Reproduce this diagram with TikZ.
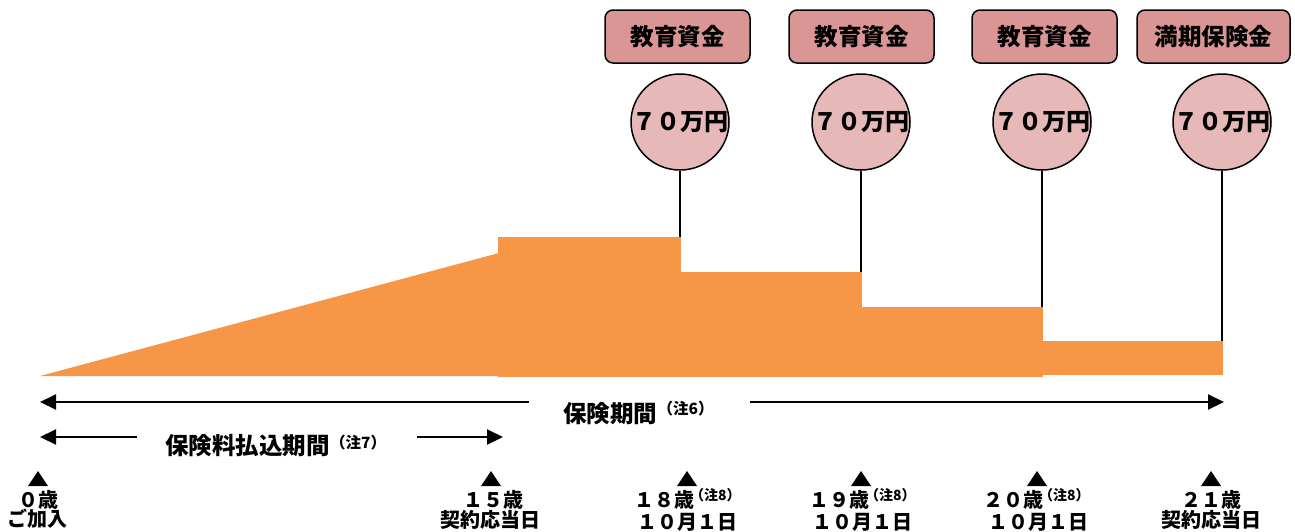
\documentclass[tikz,border=0pt]{standalone}
\usepackage{fontspec}
\setmainfont{Noto Sans CJK JP}
\usetikzlibrary{arrows.meta,shapes.geometric}
\definecolor{orng}{HTML}{F79646}
\definecolor{rosebox}{HTML}{D99694}
\definecolor{rosecirc}{HTML}{E6B9B8}
\begin{document}
\begin{tikzpicture}[x=1pt,y=-1pt,
 paybox/.style={draw=black, line width=1.5pt, fill=rosebox, rounded corners=8pt, minimum width=145pt, minimum height=53pt, inner sep=0pt, font=\bfseries\fontsize{23.5}{24}\selectfont},
 money/.style={draw=black, line width=1.5pt, fill=rosecirc, ellipse, minimum width=98pt, minimum height=96pt, inner sep=0pt},
 moneytxt/.style={inner sep=0pt, font=\bfseries\fontsize{24}{24}\selectfont},
 bigtxt/.style={inner sep=0pt, font=\bfseries\fontsize{23.5}{24}\selectfont},
 agetxt/.style={inner sep=0pt, font=\bfseries\fontsize{20}{20}\selectfont},
 note/.style={inner sep=0pt, font=\bfseries\fontsize{15.5}{15.5}\selectfont},
 smallnote/.style={inner sep=0pt, font=\bfseries\fontsize{14}{14}\selectfont},
 period/.style={line width=2pt, -{Triangle[length=16pt,width=15pt]}},
 stem/.style={line width=2pt}
]
\useasboundingbox (0,0) rectangle (1295,531);

% benefit area
\fill[orng] (40,376) -- (499,253) -- (499,376) -- cycle;
\fill[orng] (498,237) rectangle (681,377);
\fill[orng] (680,272) rectangle (862,377);
\fill[orng] (861,307) rectangle (1043,377);
\fill[orng] (1042,341) rectangle (1223,375);

\coordinate (top1) at (680,237);
\coordinate (top2) at (861,272);
\coordinate (top3) at (1042,307);
\coordinate (top4) at (1222,341);

% payment boxes
\node[paybox] (b1) at (677.5,36.5) {教育資金};
\node[paybox] (b2) at (861.5,36.5) {教育資金};
\node[paybox] (b3) at (1044.5,36.5) {教育資金};
\node[paybox, minimum width=153pt] (b4) at (1213.5,36.5) {満期保険金};

% amount circles
\node[money] (c1) at (680,122) {};
\node[money] (c2) at (861,122) {};
\node[money] (c3) at (1042,122) {};
\node[money] (c4) at (1222,122) {};
\node[moneytxt] (m1) at (c1) {７０万円};
\node[moneytxt] (m2) at (c2) {７０万円};
\node[moneytxt] (m3) at (c3) {７０万円};
\node[moneytxt] (m4) at (c4) {７０万円};

\draw[stem] (c1.south) -- (top1);
\draw[stem] (c2.south) -- (top2);
\draw[stem] (c3.south) -- (top3);
\draw[stem] (c4.south) -- (top4);

% insurance period
\coordinate (p0) at (40,402);
\coordinate (pL) at (529,402);
\coordinate (pR) at (750,402);
\coordinate (p21) at (1224,402);
\draw[period] (pL) -- (p0);
\draw[period] (pR) -- (p21);
\node[bigtxt, anchor=west] (hk) at (563,414) {保険期間};
\node[note, anchor=west] (hkn) at (hk.east |- 0,409) {（注6）};

% premium payment period
\coordinate (q0) at (40,437);
\coordinate (qL) at (137,437);
\coordinate (qR) at (417,437);
\coordinate (q15) at (503,437);
\draw[period] (qL) -- (q0);
\draw[period] (qR) -- (q15);
\node[bigtxt, anchor=west] (hr) at (165,446) {保険料払込期間};
\node[note, anchor=west] (hrn) at (hr.east |- 0,443) {（注7）};

% ticks
\foreach \x in {38,491,687,861,1037,1211}
  \fill (\x-10,486) -- (\x+10,486) -- (\x,471) -- cycle;

% age labels
\node[agetxt] (a0) at (38,499.5) {０歳};
\node[agetxt] (a0b) at (38,519) {ご加入};
\node[agetxt] (a15) at (493,499.5) {１５歳};
\node[agetxt] (a15b) at (490,520) {契約応当日};
\node[agetxt, anchor=east] (a18) at (695,499.5) {１８歳};
\node[smallnote, anchor=west] (a18n) at (690,495.5) {（注8）};
\node[agetxt] (a18b) at (687,522) {１０月１日};
\node[agetxt, anchor=east] (a19) at (870,499.5) {１９歳};
\node[smallnote, anchor=west] (a19n) at (865,495.5) {（注8）};
\node[agetxt] (a19b) at (862,522) {１０月１日};
\node[agetxt, anchor=east] (a20) at (1044,499.5) {２０歳};
\node[smallnote, anchor=west] (a20n) at (1039,495.5) {（注8）};
\node[agetxt] (a20b) at (1038,522) {１０月１日};
\node[agetxt] (a21) at (1211,499.5) {２１歳};
\node[agetxt] (a21b) at (1211,520) {契約応当日};
\end{tikzpicture}
\end{document}
